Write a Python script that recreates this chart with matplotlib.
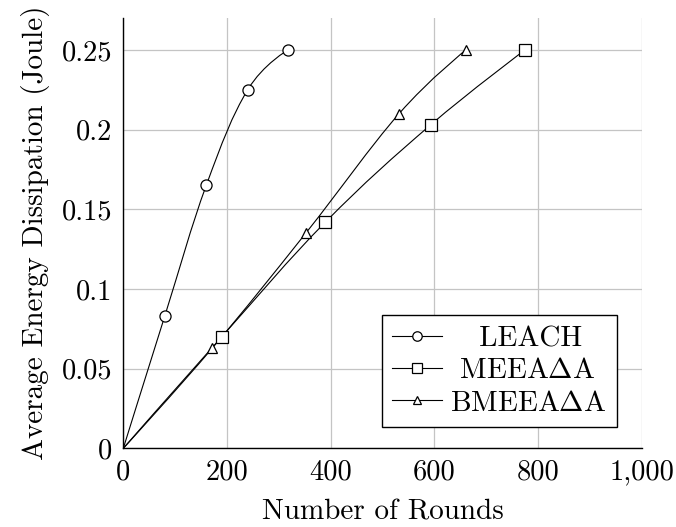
import numpy as np
import matplotlib
matplotlib.use('Agg')
import matplotlib.pyplot as plt
from matplotlib.path import Path
from matplotlib.patches import PathPatch
from matplotlib.lines import Line2D

matplotlib.rcParams.update({'font.family': 'cmr10', 'mathtext.fontset': 'cm',
                            'axes.formatter.use_mathtext': True, 'font.size': 20.5})

# data
leach_x = [0, 80, 160, 240, 318]
leach_y = [0, 0.083, 0.165, 0.225, 0.25]
meeaa_x = [0, 190, 390, 593, 775]
meeaa_y = [0, 0.070, 0.142, 0.203, 0.25]
bmeeaa_x = [0, 172, 352, 532, 661]
bmeeaa_y = [0, 0.063, 0.135, 0.210, 0.25]

series_names = ['LEACH', r'MEEA$\Delta$A', r'BMEEA$\Delta$A']
x_ticks = [0, 200, 400, 600, 800, 1000]
x_tick_labels = ['0', '200', '400', '600', '800', '1,000']
y_ticks = [0, 0.05, 0.1, 0.15, 0.2, 0.25]
y_tick_labels = ['0', '0.05', '0.1', '0.15', '0.2', '0.25']

marker_l = ['o', 's', '^']
markersize_l = [8, 8.5, 7]
legend_pad_l = ['   ', ' ', '']


def smooth_path(xs, ys, sx, sy, tension=0.19):
    # pgfplots-like smooth curve: cubic beziers with cardinal-spline control points
    pts = np.column_stack([np.asarray(xs, float) * sx, np.asarray(ys, float) * sy])
    n = len(pts)
    verts = [pts[0]]
    codes = [Path.MOVETO]
    for i in range(n - 1):
        p1, p2 = pts[i], pts[i + 1]
        c1 = p1 if i == 0 else p1 + tension * (p2 - pts[i - 1])
        c2 = p2 if i == n - 2 else p2 - tension * (pts[i + 2] - p1)
        verts += [c1, c2, p2]
        codes += [Path.CURVE4] * 3
    verts = np.array(verts) / [sx, sy]
    return Path(verts, codes)


fig = plt.figure(figsize=(6.76, 5.27), dpi=100)
ax = fig.add_axes([0.1824, 0.1493, 0.7669, 0.8165])
xlim = [0, 1000]
ylim = [0, 0.27]
ax.set_xlim(xlim)
ax.set_ylim(ylim)
sx = 518.0 / (xlim[1] - xlim[0])
sy = 430.0 / (ylim[1] - ylim[0])

handles = []
for xs, ys, m, ms, name, pad in zip([leach_x, meeaa_x, bmeeaa_x], [leach_y, meeaa_y, bmeeaa_y],
                                    marker_l, markersize_l, series_names, legend_pad_l):
    ax.add_patch(PathPatch(smooth_path(xs, ys, sx, sy), fill=False, edgecolor='black',
                           lw=0.8, zorder=3))
    ax.plot(xs[1:], ys[1:], linestyle='none', marker=m, markersize=ms, markerfacecolor='white',
            markeredgecolor='black', markeredgewidth=0.9, zorder=4)
    handles.append(Line2D([], [], color='black', lw=0.8, marker=m, markersize=ms * 0.85,
                          markerfacecolor='white', markeredgecolor='black',
                          markeredgewidth=0.9, label=pad + name))

ax.set_xticks(x_ticks, x_tick_labels)
ax.set_yticks(y_ticks, y_tick_labels)
ax.grid(True, color='#c4c4c4', lw=0.9)
ax.set_axisbelow(True)
ax.tick_params(length=0, pad=8)
for s in ['top', 'right']:
    ax.spines[s].set_visible(False)
for s in ['left', 'bottom']:
    ax.spines[s].set_linewidth(1.0)

ax.set_xlabel('Number of Rounds', fontsize=21, labelpad=10)
ax.set_ylabel('Average Energy Dissipation (Joule)', fontsize=21, labelpad=8)

ax.legend(handles=handles, loc='lower right', bbox_to_anchor=(0.952, 0.05), fontsize=21,
          fancybox=False, framealpha=1, edgecolor='black', handlelength=1.7,
          handletextpad=0.3, borderpad=0.35, labelspacing=0.2, borderaxespad=0)

fig.savefig('out.png', dpi=100)
